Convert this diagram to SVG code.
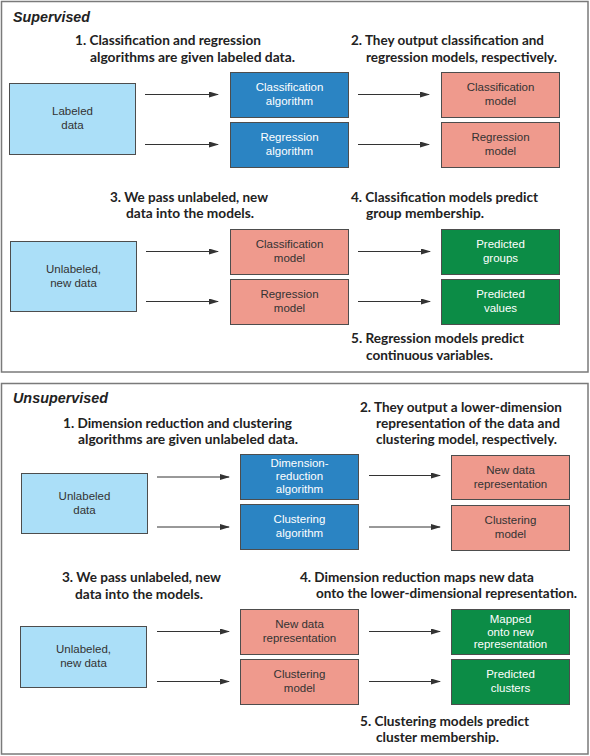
<svg xmlns="http://www.w3.org/2000/svg" width="590" height="756" viewBox="0 0 590 756">
<style>
.panel{fill:#fff;stroke:#7a7a7a;stroke-width:1.5}
.box{stroke:#4d4d4d;stroke-width:1}
.lb{fill:#abdff8}
.bl{fill:#2b84c3}
.sa{fill:#ef9a8d}
.gr{fill:#0c8c46}
.t{font-family:"Liberation Sans",Arial,sans-serif;font-size:11.5px;text-anchor:middle}
.dk{fill:#333}
.wh{fill:#fff}
.h{font-family:Lato,"Liberation Sans",sans-serif;font-weight:bold;font-size:14px;fill:#222}
.title{font-family:"Liberation Sans",Arial,sans-serif;font-weight:bold;font-style:italic;font-size:14px;fill:#222}
.c line{stroke:#333;stroke-width:1;marker-end:url(#ah)}
</style>
<defs>
<marker id="ah" markerWidth="10" markerHeight="6" refX="9" refY="3" orient="auto" markerUnits="userSpaceOnUse">
<path d="M0,0 L10,3 L0,6 Z" fill="#333"/>
</marker>
</defs>

<rect class="panel" x="1.5" y="1.5" width="586.5" height="370.5"/>
<rect class="panel" x="1.5" y="383.5" width="586.5" height="370.5"/>

<text class="title" x="13" y="22" textLength="77" lengthAdjust="spacingAndGlyphs">Supervised</text>
<text class="title" x="13" y="403" textLength="95" lengthAdjust="spacingAndGlyphs">Unsupervised</text>

<g id="headers">
<text class="h" x="75" y="45" textLength="186" lengthAdjust="spacingAndGlyphs">1. Classification and regression</text>
<text class="h" x="90" y="62" textLength="205" lengthAdjust="spacingAndGlyphs">algorithms are given labeled data.</text>
<text class="h" x="351" y="45" textLength="193" lengthAdjust="spacingAndGlyphs">2. They output classification and</text>
<text class="h" x="366" y="62" textLength="191" lengthAdjust="spacingAndGlyphs">regression models, respectively.</text>
<text class="h" x="110" y="202" textLength="158" lengthAdjust="spacingAndGlyphs">3. We pass unlabeled, new</text>
<text class="h" x="126" y="218" textLength="128" lengthAdjust="spacingAndGlyphs">data into the models.</text>
<text class="h" x="351" y="202" textLength="187" lengthAdjust="spacingAndGlyphs">4. Classification models predict</text>
<text class="h" x="366" y="218" textLength="118" lengthAdjust="spacingAndGlyphs">group membership.</text>
<text class="h" x="351" y="343" textLength="173" lengthAdjust="spacingAndGlyphs">5. Regression models predict</text>
<text class="h" x="366" y="360" textLength="127" lengthAdjust="spacingAndGlyphs">continuous variables.</text>

<text class="h" x="63" y="428" textLength="229" lengthAdjust="spacingAndGlyphs">1. Dimension reduction and clustering</text>
<text class="h" x="78" y="444" textLength="220" lengthAdjust="spacingAndGlyphs">algorithms are given unlabeled data.</text>
<text class="h" x="360" y="412" textLength="202" lengthAdjust="spacingAndGlyphs">2. They output a lower-dimension</text>
<text class="h" x="376" y="428" textLength="184" lengthAdjust="spacingAndGlyphs">representation of the data and</text>
<text class="h" x="376" y="444" textLength="181" lengthAdjust="spacingAndGlyphs">clustering model, respectively.</text>
<text class="h" x="62" y="582" textLength="159" lengthAdjust="spacingAndGlyphs">3. We pass unlabeled, new</text>
<text class="h" x="75" y="599" textLength="128" lengthAdjust="spacingAndGlyphs">data into the models.</text>
<text class="h" x="300" y="582" textLength="234" lengthAdjust="spacingAndGlyphs">4. Dimension reduction maps new data</text>
<text class="h" x="316" y="598" textLength="261" lengthAdjust="spacingAndGlyphs">onto the lower-dimensional representation.</text>
<text class="h" x="360" y="726" textLength="169" lengthAdjust="spacingAndGlyphs">5. Clustering models predict</text>
<text class="h" x="376" y="742" textLength="123" lengthAdjust="spacingAndGlyphs">cluster membership.</text>
</g>

<!-- Supervised nodes -->
<g id="s-labeled"><rect class="box lb" x="9.5" y="83.5" width="126" height="71"/><text class="t dk" x="72.5" y="115">Labeled</text><text class="t dk" x="72.5" y="129">data</text></g>
<g id="s-class-alg"><rect class="box bl" x="230.5" y="72.5" width="118" height="45"/><text class="t wh" x="289.5" y="91">Classification</text><text class="t wh" x="289.5" y="105">algorithm</text></g>
<g id="s-reg-alg"><rect class="box bl" x="230.5" y="122.5" width="118" height="45"/><text class="t wh" x="289.5" y="141">Regression</text><text class="t wh" x="289.5" y="155">algorithm</text></g>
<g id="s-class-model"><rect class="box sa" x="441.5" y="72.5" width="118" height="45"/><text class="t dk" x="500.5" y="91">Classification</text><text class="t dk" x="500.5" y="105">model</text></g>
<g id="s-reg-model"><rect class="box sa" x="441.5" y="122.5" width="118" height="45"/><text class="t dk" x="500.5" y="141">Regression</text><text class="t dk" x="500.5" y="155">model</text></g>

<g id="s-unlabeled"><rect class="box lb" x="10.5" y="241.5" width="126" height="70"/><text class="t dk" x="73.5" y="273">Unlabeled,</text><text class="t dk" x="73.5" y="287">new data</text></g>
<g id="s-class-model2"><rect class="box sa" x="230.5" y="229.5" width="118" height="45"/><text class="t dk" x="289.5" y="248">Classification</text><text class="t dk" x="289.5" y="262">model</text></g>
<g id="s-reg-model2"><rect class="box sa" x="230.5" y="279.5" width="118" height="45"/><text class="t dk" x="289.5" y="298">Regression</text><text class="t dk" x="289.5" y="312">model</text></g>
<g id="s-pred-groups"><rect class="box gr" x="441.5" y="229.5" width="118" height="45"/><text class="t wh" x="500.5" y="248">Predicted</text><text class="t wh" x="500.5" y="262">groups</text></g>
<g id="s-pred-values"><rect class="box gr" x="441.5" y="279.5" width="118" height="45"/><text class="t wh" x="500.5" y="298">Predicted</text><text class="t wh" x="500.5" y="312">values</text></g>

<!-- Unsupervised nodes -->
<g id="u-unlabeled"><rect class="box lb" x="21.5" y="473.5" width="126" height="60"/><text class="t dk" x="84.5" y="500">Unlabeled</text><text class="t dk" x="84.5" y="514">data</text></g>
<g id="u-dr-alg"><rect class="box bl" x="240.5" y="454.5" width="118" height="45"/><text class="t wh" x="299.5" y="467">Dimension-</text><text class="t wh" x="299.5" y="480">reduction</text><text class="t wh" x="299.5" y="493">algorithm</text></g>
<g id="u-cl-alg"><rect class="box bl" x="240.5" y="504.5" width="118" height="45"/><text class="t wh" x="299.5" y="523">Clustering</text><text class="t wh" x="299.5" y="537">algorithm</text></g>
<g id="u-newrep"><rect class="box sa" x="451.5" y="455.5" width="118" height="44"/><text class="t dk" x="510.5" y="474">New data</text><text class="t dk" x="510.5" y="488">representation</text></g>
<g id="u-cl-model"><rect class="box sa" x="451.5" y="505.5" width="118" height="45"/><text class="t dk" x="510.5" y="524">Clustering</text><text class="t dk" x="510.5" y="538">model</text></g>

<g id="u-unlabeled2"><rect class="box lb" x="20.5" y="626.5" width="126" height="61"/><text class="t dk" x="83.5" y="653">Unlabeled,</text><text class="t dk" x="83.5" y="667">new data</text></g>
<g id="u-newrep2"><rect class="box sa" x="240.5" y="609.5" width="118" height="45"/><text class="t dk" x="299.5" y="628">New data</text><text class="t dk" x="299.5" y="642">representation</text></g>
<g id="u-cl-model2"><rect class="box sa" x="240.5" y="659.5" width="118" height="45"/><text class="t dk" x="299.5" y="678">Clustering</text><text class="t dk" x="299.5" y="692">model</text></g>
<g id="u-mapped"><rect class="box gr" x="451.5" y="609.5" width="118" height="45"/><text class="t wh" x="510.5" y="623">Mapped</text><text class="t wh" x="510.5" y="635.5">onto new</text><text class="t wh" x="510.5" y="648">representation</text></g>
<g id="u-pred-clusters"><rect class="box gr" x="451.5" y="659.5" width="118" height="45"/><text class="t wh" x="510.5" y="678">Predicted</text><text class="t wh" x="510.5" y="692">clusters</text></g>

<g id="connectors" class="c">
<line x1="145" y1="94.5" x2="218" y2="94.5"/>
<line x1="145" y1="144.5" x2="218" y2="144.5"/>
<line x1="358" y1="94.5" x2="429" y2="94.5"/>
<line x1="358" y1="144.5" x2="429" y2="144.5"/>
<line x1="146" y1="251.5" x2="218" y2="251.5"/>
<line x1="146" y1="301.5" x2="218" y2="301.5"/>
<line x1="358" y1="251.5" x2="430" y2="251.5"/>
<line x1="358" y1="301.5" x2="430" y2="301.5"/>
<line x1="157" y1="477" x2="229" y2="477"/>
<line x1="157" y1="527" x2="229" y2="527"/>
<line x1="369" y1="475.5" x2="440" y2="475.5"/>
<line x1="369" y1="527" x2="440" y2="527"/>
<line x1="157" y1="631.5" x2="229" y2="631.5"/>
<line x1="157" y1="681.5" x2="229" y2="681.5"/>
<line x1="369" y1="631.5" x2="440" y2="631.5"/>
<line x1="369" y1="681.5" x2="440" y2="681.5"/>
</g>
</svg>
